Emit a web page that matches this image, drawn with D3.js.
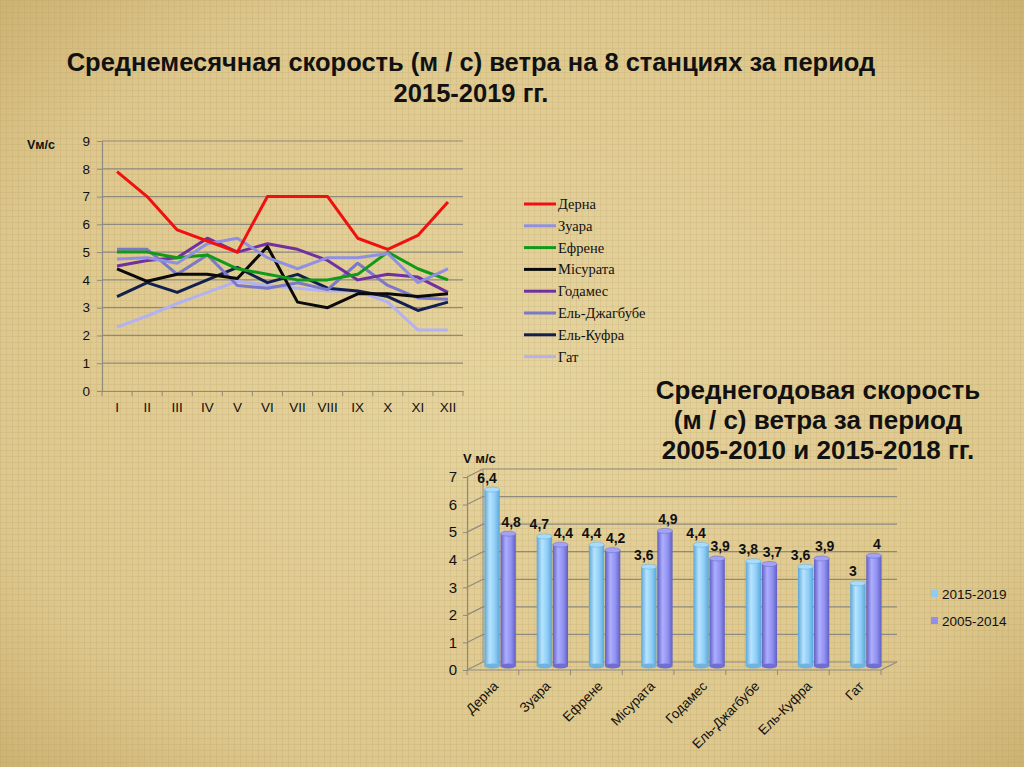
<!DOCTYPE html>
<html>
<head>
<meta charset="utf-8">
<script src="https://cdn.jsdelivr.net/npm/d3@7"></script>
<style>
  html, body { margin: 0; padding: 0; }
  svg { display: block; font-family: "Liberation Sans", Arial, sans-serif; }
</style>
</head>
<body>
<svg id="chart" width="1024" height="767"></svg>
<script>
// --- data ---
var months = ["I", "II", "III", "IV", "V", "VI", "VII", "VIII", "IX", "X", "XI", "XII"];
var stations = ["Дерна", "Зуара", "Ефрене", "Місурата", "Годамес", "Ель-Джагбубе", "Ель-Куфра", "Гат"];

var derna     = [7.9, 7.0, 5.8, 5.4, 5.0, 7.0, 7.0, 7.0, 5.5, 5.1, 5.6, 6.8];
var zuara     = [4.75, 4.8, 4.6, 5.3, 5.5, 4.8, 4.4, 4.8, 4.8, 4.95, 3.9, 4.4];
var efrene    = [5.0, 5.0, 4.8, 4.9, 4.4, 4.2, 4.0, 4.0, 4.2, 5.0, 4.4, 4.0];
var misurata  = [4.4, 3.95, 4.2, 4.2, 4.05, 5.2, 3.2, 3.0, 3.5, 3.5, 3.4, 3.5];
var godames   = [4.5, 4.7, 4.8, 5.5, 5.0, 5.3, 5.1, 4.7, 4.0, 4.2, 4.1, 3.55];
var jaghbub   = [5.1, 5.1, 4.2, 4.9, 3.8, 3.7, 3.9, 3.65, 4.6, 3.8, 3.35, 3.3];
var kufra     = [3.4, 3.9, 3.55, 4.0, 4.45, 3.9, 4.2, 3.7, 3.6, 3.4, 2.9, 3.2];
var gat       = [2.3, 2.7, 3.15, 3.55, 3.95, 3.8, 3.7, 3.6, 3.6, 3.2, 2.2, 2.2];

var lineValues = [derna, zuara, efrene, misurata, godames, jaghbub, kufra, gat];
var lineColors = ["#f01010", "#9090e2", "#119a1a", "#0a0a0a", "#7030a0", "#7a78c8", "#122050", "#b2b2f2"];
var lineTicks = [0, 1, 2, 3, 4, 5, 6, 7, 8, 9];

var barStations = ["Дерна", "Зуара", "Ефрене", "Місурата", "Годамес", "Ель-Джагбубе", "Ель-Куфра", "Гат"];
var periods = ["2015-2019", "2005-2014"];
var avg2015 = [6.4, 4.7, 4.4, 3.6, 4.4, 3.8, 3.6, 3];
var avg2005 = [4.8, 4.4, 4.2, 4.9, 3.9, 3.7, 3.9, 4];
var barTicks = [0, 1, 2, 3, 4, 5, 6, 7];

var svg = d3.select("#chart");
var defs = svg.append("defs");

// --- background ---
var bg = defs.append("radialGradient").attr("id", "bg").attr("cx", "50%").attr("cy", "50%").attr("r", "75%");
bg.append("stop").attr("offset", "0%").attr("stop-color", "#e6d5a0");
bg.append("stop").attr("offset", "70%").attr("stop-color", "#ddc78c");
bg.append("stop").attr("offset", "100%").attr("stop-color", "#c9ad6c");

var tex = defs.append("pattern").attr("id", "tex").attr("width", 6).attr("height", 6)
  .attr("patternUnits", "userSpaceOnUse");
tex.append("path").attr("d", "M0,0.5H6 M0.5,0V6").attr("stroke", "#b0965a").attr("stroke-width", 0.6).attr("opacity", 0.3);

svg.append("rect").attr("width", 1024).attr("height", 767).attr("fill", "url(#bg)");
svg.append("rect").attr("width", 1024).attr("height", 767).attr("fill", "url(#tex)");

// --- titles ---
var title1 = svg.append("text").attr("text-anchor", "middle").attr("font-weight", "bold")
  .attr("font-size", 25.5).attr("fill", "#111");
title1.append("tspan").attr("x", 471).attr("y", 71).text("Среднемесячная скорость (м / с) ветра на 8 станциях за период");
title1.append("tspan").attr("x", 471).attr("y", 102).text("2015-2019 гг.");

var title2 = svg.append("text").attr("text-anchor", "middle").attr("font-weight", "bold")
  .attr("font-size", 26).attr("fill", "#111");
title2.append("tspan").attr("x", 818).attr("y", 399).text("Среднегодовая скорость");
title2.append("tspan").attr("x", 818).attr("y", 429).text("(м / с) ветра  за период");
title2.append("tspan").attr("x", 818).attr("y", 459).text("2005-2010 и 2015-2018 гг.");

// --- line chart ---
var lx = d3.scaleBand().domain(months).range([102, 463]);
var ly = d3.scaleLinear().domain([0, 9]).range([391, 141]);
var lg = svg.append("g");

lg.selectAll("line.grid").data(lineTicks.slice(1)).enter().append("line")
  .attr("x1", 102).attr("x2", 463)
  .attr("y1", function (d) { return ly(d); }).attr("y2", function (d) { return ly(d); })
  .attr("stroke", "#8e8a80").attr("stroke-width", 1.2);

var yAxis = lg.append("g").attr("transform", "translate(102,0)")
  .call(d3.axisLeft(ly).tickValues(lineTicks).tickSize(5).tickPadding(7));
var xAxis = lg.append("g").attr("transform", "translate(0,391)")
  .call(d3.axisBottom(lx).tickSize(0).tickPadding(11));
[yAxis, xAxis].forEach(function (a) {
  a.select(".domain").attr("stroke", "#8e8a80").attr("stroke-width", 1.2);
  a.selectAll("line").attr("stroke", "#8e8a80");
  a.selectAll("text").attr("font-size", 13.5).attr("fill", "#111")
    .attr("font-family", "'Liberation Sans', Arial, sans-serif");
});
// tick marks between categories
lg.selectAll("line.xt").data(d3.range(months.length + 1)).enter().append("line")
  .attr("x1", function (i) { return 102 + i * lx.step(); })
  .attr("x2", function (i) { return 102 + i * lx.step(); })
  .attr("y1", 391).attr("y2", 396).attr("stroke", "#8e8a80");

lg.append("text").attr("x", 27).attr("y", 149).attr("font-size", 12.5).attr("font-weight", "bold")
  .attr("fill", "#111").text("Vм/с");

var line = d3.line()
  .x(function (d, i) { return lx(months[i]) + lx.bandwidth() / 2; })
  .y(function (d) { return ly(d); });

lg.selectAll("path.series").data(lineValues.slice().reverse()).enter().append("path")
  .attr("d", line)
  .attr("fill", "none")
  .attr("stroke", function (d, i) { return lineColors[lineValues.length - 1 - i]; })
  .attr("stroke-width", 3)
  .attr("stroke-linejoin", "round");

// legend
var leg = svg.append("g").attr("transform", "translate(524,204)");
var legItem = leg.selectAll("g").data(stations).enter().append("g")
  .attr("transform", function (d, i) { return "translate(0," + (i * 21.8) + ")"; });
legItem.append("line").attr("x1", 0).attr("x2", 32).attr("y1", 0).attr("y2", 0)
  .attr("stroke", function (d, i) { return lineColors[i]; }).attr("stroke-width", 3);
legItem.append("text").attr("x", 34).attr("y", 5)
  .attr("font-family", "'Liberation Serif', 'Times New Roman', serif").attr("font-size", 14.5)
  .attr("fill", "#111").text(function (d) { return d; });

// --- bar chart (pseudo 3D) ---
var dx = 16, dy = 8;
var bx = d3.scaleBand().domain(barStations).range([474, 892]).paddingInner(0.4).paddingOuter(0.2);
var bs = d3.scaleBand().domain(periods).range([0, bx.bandwidth()]).paddingInner(0.05);
var by = d3.scaleLinear().domain([0, 7]).range([666, 473]);
var bg2 = svg.append("g");

// back wall gridlines and side wall
bg2.selectAll("line.bgrid").data(barTicks).enter().append("line")
  .attr("x1", 467 + dx).attr("x2", 897)
  .attr("y1", function (d) { return by(d) + 4 - dy; }).attr("y2", function (d) { return by(d) + 4 - dy; })
  .attr("stroke", "#8e8a80").attr("stroke-width", 1.2);
bg2.selectAll("line.side").data(barTicks).enter().append("line")
  .attr("x1", 467).attr("x2", 467 + dx)
  .attr("y1", function (d) { return by(d) + 4; }).attr("y2", function (d) { return by(d) + 4 - dy; })
  .attr("stroke", "#8e8a80").attr("stroke-width", 1.2);
bg2.append("line").attr("x1", 467 + dx).attr("x2", 467 + dx)
  .attr("y1", by(7) + 4 - dy).attr("y2", by(0) + 4 - dy).attr("stroke", "#8e8a80");

var bAxis = bg2.append("g").attr("transform", "translate(467,4)")
  .call(d3.axisLeft(by).tickValues(barTicks).tickFormat(d3.format("d")).tickSize(4).tickPadding(6));
bAxis.select(".domain").attr("stroke", "#8e8a80").attr("stroke-width", 1.2);
bAxis.selectAll("line").attr("stroke", "#8e8a80");
bAxis.selectAll("text").attr("font-size", 15).attr("fill", "#111")
  .attr("font-family", "'Liberation Sans', Arial, sans-serif");

// floor front edge
bg2.append("path")
  .attr("d", "M467," + (by(0) + 4) + "H881l" + dx + "," + (-dy))
  .attr("fill", "none").attr("stroke", "#8e8a80").attr("stroke-width", 1.2);
bg2.selectAll("line.ft").data(d3.range(barStations.length + 1)).enter().append("line")
  .attr("x1", function (i) { return 467 + i * (881 - 467) / barStations.length; })
  .attr("x2", function (i) { return 467 + i * (881 - 467) / barStations.length; })
  .attr("y1", by(0) + 4).attr("y2", by(0) + 9).attr("stroke", "#8e8a80");

bg2.append("text").attr("x", 463).attr("y", 463).attr("font-size", 13).attr("font-weight", "bold")
  .attr("fill", "#111").text("V м/с");

// cylinder gradients
function cylGrad(id, edge, mid, light) {
  var g = defs.append("linearGradient").attr("id", id).attr("x1", "0%").attr("x2", "100%");
  g.append("stop").attr("offset", "0%").attr("stop-color", edge);
  g.append("stop").attr("offset", "35%").attr("stop-color", light);
  g.append("stop").attr("offset", "70%").attr("stop-color", mid);
  g.append("stop").attr("offset", "100%").attr("stop-color", edge);
}
cylGrad("cyl0", "#5ba6d6", "#8ccdf6", "#b7e4ff");
cylGrad("cyl1", "#5f5fc2", "#8f8ff0", "#aeaeff");
var capColor = ["#a9dcfb", "#a3a3f6"];
var labelShift = [-5, 3];

var seriesVals = [avg2015, avg2005];
var groups = bg2.selectAll("g.grp").data(barStations).enter().append("g")
  .attr("transform", function (d) { return "translate(" + bx(d) + ",0)"; });

seriesVals.forEach(function (vals, s) {
  var w = bs.bandwidth();
  var x0 = bs(periods[s]);
  groups.append("rect")
    .attr("x", x0).attr("width", w)
    .attr("y", function (d, i) { return by(vals[i]); })
    .attr("height", function (d, i) { return by(0) - by(vals[i]); })
    .attr("fill", "url(#cyl" + s + ")");
  groups.append("ellipse")
    .attr("cx", x0 + w / 2).attr("rx", w / 2).attr("ry", 2.5)
    .attr("cy", function (d, i) { return by(vals[i]); })
    .attr("fill", capColor[s]).attr("stroke", s ? "#6e6ed4" : "#6fb4e0").attr("stroke-width", 0.6);
  groups.append("ellipse")
    .attr("cx", x0 + w / 2).attr("rx", w / 2).attr("ry", 2.5)
    .attr("cy", by(0))
    .attr("fill", s ? "#6e6ed4" : "#6fb4e0");
  groups.append("text")
    .attr("x", x0 + w / 2 + labelShift[s])
    .attr("y", function (d, i) { return by(vals[i]) - 7; })
    .attr("text-anchor", "middle").attr("font-size", 14).attr("font-weight", "bold").attr("fill", "#111")
    .text(function (d, i) { return String(vals[i]).replace(".", ","); });
});

// category labels rotated
bg2.selectAll("text.cat").data(barStations).enter().append("text")
  .attr("transform", function (d) {
    return "translate(" + (bx(d) + bx.bandwidth() / 2 - 1) + "," + (by(0) + 21) + ") rotate(-45)";
  })
  .attr("text-anchor", "end").attr("font-size", 13.5).attr("fill", "#111")
  .text(function (d) { return d; });

// bar legend
var bl = svg.append("g").attr("transform", "translate(931,594)");
var blItem = bl.selectAll("g").data(periods).enter().append("g")
  .attr("transform", function (d, i) { return "translate(0," + (i * 27) + ")"; });
blItem.append("rect").attr("x", 0).attr("y", -4).attr("width", 7).attr("height", 7)
  .attr("fill", function (d, i) { return i ? "#8f8ff0" : "#8ccdf6"; });
blItem.append("text").attr("x", 11).attr("y", 5).attr("font-size", 13.5).attr("fill", "#111")
  .text(function (d) { return d; });
</script>
</body>
</html>
